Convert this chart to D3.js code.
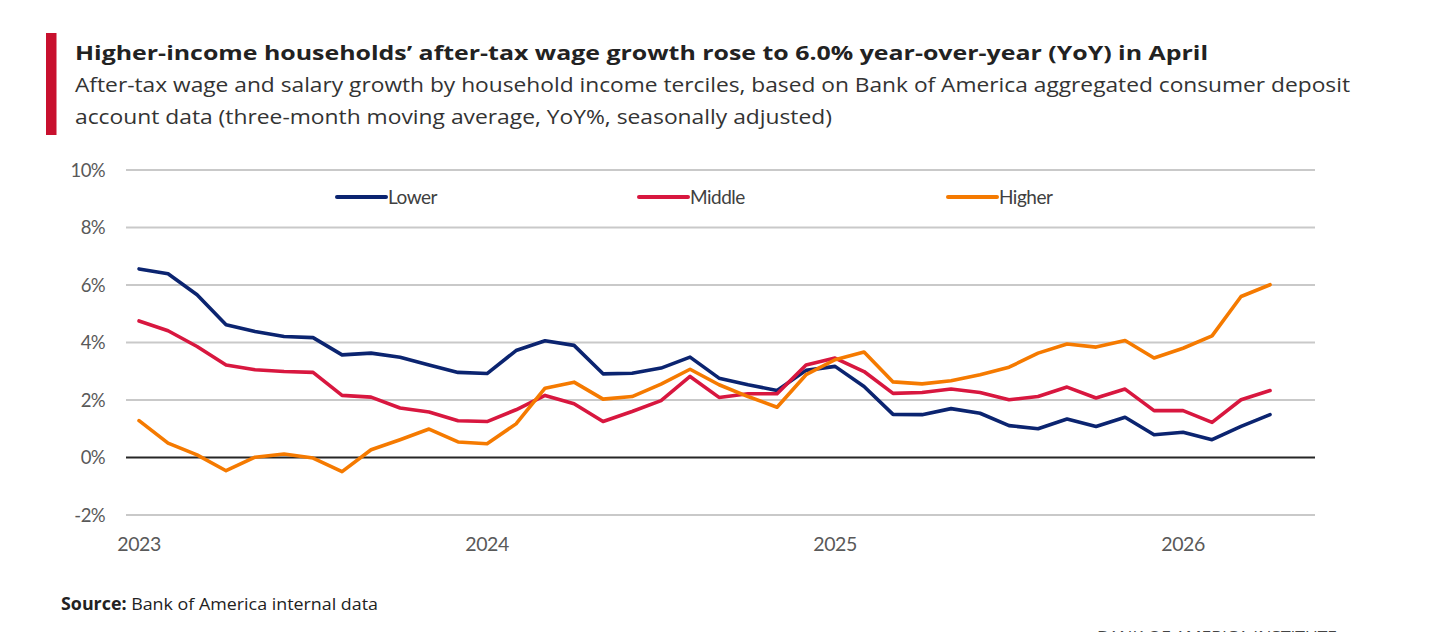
<!DOCTYPE html>
<html>
<head>
<meta charset="utf-8">
<script src="https://cdn.jsdelivr.net/npm/d3@7"></script>
<style>
  html, body { margin: 0; padding: 0; background: #fff; }
  svg { display: block; }
</style>
</head>
<body>
<svg id="chart" width="1438" height="632"></svg>
<script>
// months Jan 2023 .. Apr 2026
const months = d3.range(40).map(i => new Date(2023, i, 1));
const yearTicks = [0, 12, 24, 36];
const yearLabels = ["2023", "2024", "2025", "2026"];
const yTicks = [-2, 0, 2, 4, 6, 8, 10];

const lower = [6.56, 6.39, 5.66, 4.62, 4.38, 4.21, 4.17, 3.57, 3.63, 3.49, 3.22, 2.96, 2.92,
    3.72, 4.06, 3.90, 2.91, 2.93, 3.11, 3.49, 2.76, 2.53, 2.33, 3.03, 3.17, 2.47, 1.50,
    1.49, 1.70, 1.54, 1.11, 1.00, 1.34, 1.08, 1.40, 0.79, 0.88, 0.62, 1.08, 1.49];
const middle = [4.75, 4.41, 3.86, 3.22, 3.05, 2.99, 2.96, 2.16, 2.10, 1.72, 1.58, 1.28, 1.25,
    1.66, 2.16, 1.87, 1.25, 1.60, 1.98, 2.82, 2.09, 2.22, 2.22, 3.22, 3.46, 2.99, 2.23,
    2.26, 2.38, 2.26, 2.01, 2.12, 2.45, 2.07, 2.38, 1.63, 1.63, 1.22, 2.01, 2.33];
const higher = [1.28, 0.50, 0.09, -0.46, 0.01, 0.12, -0.02, -0.49, 0.27, 0.62, 0.99, 0.54, 0.48,
    1.17, 2.41, 2.62, 2.03, 2.12, 2.55, 3.07, 2.53, 2.12, 1.75, 2.88, 3.40, 3.67, 2.63,
    2.56, 2.67, 2.88, 3.14, 3.63, 3.95, 3.84, 4.07, 3.46, 3.80, 4.23, 5.60, 6.01];

const seriesNames = ["Lower", "Middle", "Higher"];
const seriesColors = ["#0b2470", "#d8173f", "#f57a00"];

const svg = d3.select("#chart");

// header
svg.append("rect")
    .attr("x", 46).attr("y", 33)
    .attr("width", 10.5).attr("height", 102)
    .attr("fill", "#c8102e");

svg.append("text")
    .attr("x", 75).attr("y", 60)
    .attr("font-family", "'Open Sans', sans-serif")
    .attr("font-weight", 700)
    .attr("font-size", 19.5)
    .attr("fill", "#222")
    .attr("textLength", 1133)
    .attr("lengthAdjust", "spacingAndGlyphs")
    .text("Higher-income households\u2019 after-tax wage growth rose to 6.0% year-over-year (YoY) in April");

const subtitle = [
    "After-tax wage and salary growth by household income terciles, based on Bank of America aggregated consumer deposit",
    "account data (three-month moving average, YoY%, seasonally adjusted)"
];
const subWidths = [1275, 757];
svg.append("g").selectAll("text")
    .data(subtitle)
    .join("text")
    .attr("x", 75)
    .attr("y", (d, i) => 92 + i * 32)
    .attr("font-family", "'Open Sans', sans-serif")
    .attr("font-size", 19.5)
    .attr("fill", "#333")
    .attr("textLength", (d, i) => subWidths[i])
    .attr("lengthAdjust", "spacingAndGlyphs")
    .text(d => d);

// scales
const x = d3.scaleLinear().domain([-0.45, 40.55]).range([126, 1315]);
const y = d3.scaleLinear().domain([-2, 10]).range([515, 170]);

// grid
svg.append("g").selectAll("line")
    .data(yTicks.filter(t => t !== 0))
    .join("line")
    .attr("x1", x.range()[0]).attr("x2", x.range()[1])
    .attr("y1", d => y(d)).attr("y2", d => y(d))
    .attr("stroke", "#c9c9c9")
    .attr("stroke-width", 2);

// y labels
svg.append("g").selectAll("text")
    .data(yTicks)
    .join("text")
    .attr("x", 105)
    .attr("y", d => y(d))
    .attr("dy", "0.36em")
    .attr("text-anchor", "end")
    .attr("font-family", "Lato, sans-serif")
    .attr("font-size", 18.5)
    .attr("letter-spacing", -0.6)
    .attr("fill", "#595959")
    .text(d => d + "%");

// x labels
svg.append("g").selectAll("text")
    .data(yearTicks)
    .join("text")
    .attr("x", d => x(d))
    .attr("y", 551)
    .attr("text-anchor", "middle")
    .attr("font-family", "Lato, sans-serif")
    .attr("font-size", 19.5)
    .attr("letter-spacing", -0.4)
    .attr("fill", "#595959")
    .text((d, i) => yearLabels[i]);

// zero line
svg.append("line")
    .attr("x1", x.range()[0]).attr("x2", x.range()[1])
    .attr("y1", y(0)).attr("y2", y(0))
    .attr("stroke", "#262626")
    .attr("stroke-width", 2.2);

// series
const allSeries = [lower, middle, higher];
const line = d3.line()
    .x((d, i) => x(i))
    .y(d => y(d));

svg.append("g").selectAll("path")
    .data(allSeries)
    .join("path")
    .attr("d", d => line(d))
    .attr("fill", "none")
    .attr("stroke", (d, i) => seriesColors[i])
    .attr("stroke-width", 3.6)
    .attr("stroke-linejoin", "round")
    .attr("stroke-linecap", "round");

// legend
const legendX = [337, 639, 948];
const legend = svg.append("g").selectAll("g")
    .data(seriesNames)
    .join("g")
    .attr("transform", (d, i) => `translate(${legendX[i]},197)`);
legend.append("line")
    .attr("x1", 0).attr("x2", 49)
    .attr("stroke", (d, i) => seriesColors[i])
    .attr("stroke-width", 4)
    .attr("stroke-linecap", "round");
legend.append("text")
    .attr("x", 51)
    .attr("dy", "0.36em")
    .attr("font-family", "Lato, sans-serif")
    .attr("font-size", 19)
    .attr("letter-spacing", -0.5)
    .attr("fill", "#404040")
    .text(d => d);

// footer
const src = svg.append("text")
    .attr("x", 61).attr("y", 610)
    .attr("font-family", "'Open Sans', sans-serif")
    .attr("font-size", 17)
    .attr("fill", "#222")
    .attr("textLength", 317)
    .attr("lengthAdjust", "spacingAndGlyphs");
src.append("tspan").attr("font-weight", 700).text("Source:");
src.append("tspan").text(" Bank of America internal data");

svg.append("text")
    .attr("x", 1097).attr("y", 641)
    .attr("font-family", "'Open Sans', sans-serif")
    .attr("font-size", 15)
    .attr("fill", "#444")
    .attr("textLength", 240)
    .attr("lengthAdjust", "spacingAndGlyphs")
    .text("BANK OF AMERICA INSTITUTE");
</script>
</body>
</html>
